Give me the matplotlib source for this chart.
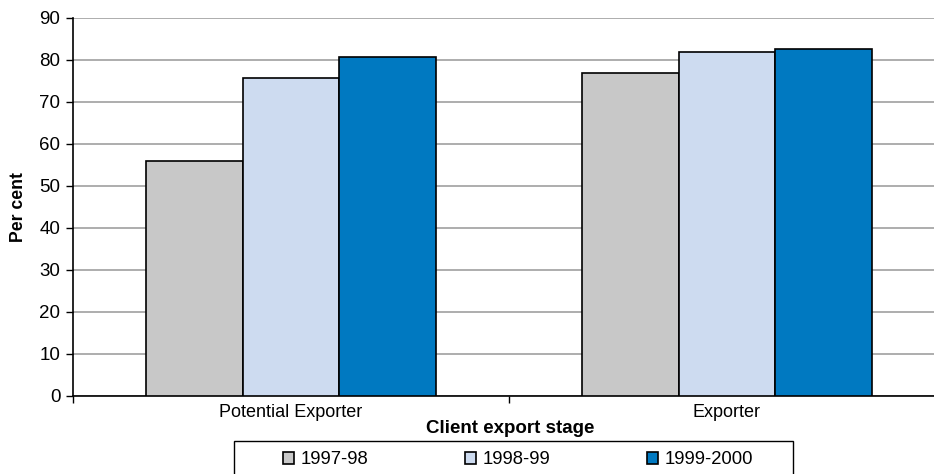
import numpy as np
import matplotlib.pyplot as plt
from matplotlib.patches import Rectangle

plt.rcParams['font.family'] = ['Liberation Sans', 'DejaVu Sans']

stages = ['Potential Exporter', 'Exporter']
years = ['1997-98', '1998-99', '1999-2000']
values_9798 = [56, 77]
values_9899 = [75.6, 81.8]
values_9900 = [80.6, 82.6]
colors = ['#c8c8c8', '#cddbf0', '#0079c1']

W, H = 934, 474
fig = plt.figure(figsize=(W / 100, H / 100), dpi=100)
# axes run a little past the right edge of the figure
ax = fig.add_axes([73 / W, 1 - 396 / H, 872 / W, 378 / H])

x = np.arange(len(stages))
width = 0.222
series = [values_9798, values_9899, values_9900]
for i, (vals, lab, col) in enumerate(zip(series, years, colors)):
    ax.bar(x + (i - 1) * width, vals, width, color=col, edgecolor='black',
           linewidth=1.2, label=lab, zorder=3)

ax.set_xlim(-0.5, 1.5)
ax.set_ylim(0, 90)
ax.set_yticks(range(0, 91, 10))
ax.yaxis.grid(True, color='#a0a0a0', linewidth=1.2, zorder=0)
ax.set_xticks(x)
ax.set_xticklabels(stages, fontsize=13)
ax.set_xticks([-0.5, 0.5, 1.5], minor=True)
ax.tick_params(axis='x', which='major', length=0, pad=5.5)
ax.tick_params(axis='x', which='minor', length=5, width=1, direction='out')
ax.tick_params(axis='y', labelsize=13.5, length=5, width=1, direction='out', pad=4)
for s in ['top', 'right']:
    ax.spines[s].set_visible(False)
for s in ['left', 'bottom']:
    ax.spines[s].set_linewidth(1.2)

ax.set_xlabel('Client export stage', fontsize=13.5, fontweight='bold')
ax.xaxis.set_label_coords(0.501, -0.064)
ax.set_ylabel('Per cent', fontsize=12.7, fontweight='bold')
ax.yaxis.set_label_coords(-0.053, 0.5)

# legend box, open at the bottom edge of the figure
fig.patches.append(Rectangle((234 / W, -0.01), 559 / W, 1 - 441 / H + 0.01,
                             transform=fig.transFigure, facecolor='white',
                             edgecolor='black', linewidth=1.0))
leg = fig.legend(loc='center left', bbox_to_anchor=(283 / W, 1 - 460 / H),
                 ncol=3, fontsize=13.3, frameon=False,
                 handlelength=0.6, handleheight=0.6, handletextpad=0.38,
                 columnspacing=5.2, borderaxespad=0, borderpad=0)

fig.savefig('out.png', dpi=100)
